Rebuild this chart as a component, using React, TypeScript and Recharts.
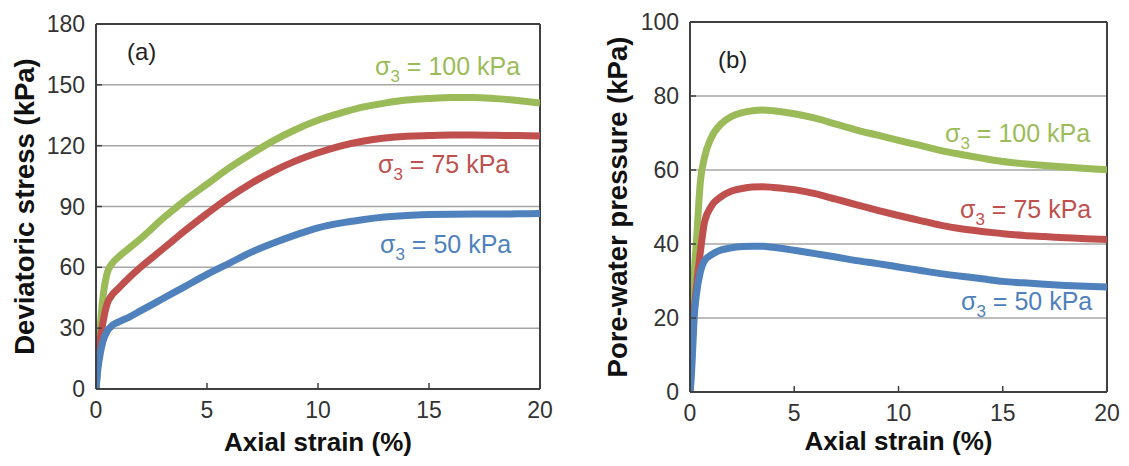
import React from "react";
import { LineChart, Line, XAxis, YAxis, CartesianGrid, ReferenceLine, Label } from "recharts";

const strain = [0, 0.05, 0.1, 0.2, 0.3, 0.5, 0.7, 1, 1.5, 2, 2.5, 3, 3.5, 4, 5, 6, 7, 8, 9, 10, 11, 12, 13, 14, 15, 16, 17, 18, 19, 20];

// (a) Deviatoric stress (kPa)
const q100 = [0, 10, 19, 32, 44, 57, 61.5, 65, 69.5, 74, 79, 84, 88.5, 93, 101, 109, 116, 122.5, 128, 132.5, 136, 139, 141, 142.5, 143.3, 143.8, 143.8, 143.2, 142.3, 141];
const q75 = [0, 8, 15, 25, 32, 42, 46, 49.5, 55, 60, 64.5, 69, 73.5, 78, 86.5, 94.5, 101.5, 107.5, 112.5, 116.5, 119.8, 122.2, 123.8, 124.7, 125, 125.2, 125.2, 125.1, 125, 124.8];
const q50 = [0, 6, 11, 18, 23, 28.5, 31, 33, 35.5, 38.5, 41.5, 44.5, 47.5, 50.5, 56.5, 62, 67.5, 72, 76, 79.5, 81.8, 83.5, 84.8, 85.6, 86, 86.2, 86.3, 86.3, 86.4, 86.5];

// (b) Pore-water pressure (kPa)
const u100 = [0, 10, 20, 32, 40, 57, 63.5, 68.5, 72.5, 74.5, 75.5, 76, 76.2, 76, 75.2, 74, 72.4, 70.8, 69.4, 68, 66.7, 65.3, 64.2, 63.2, 62.3, 61.7, 61.2, 60.8, 60.4, 60.1];
const u75 = [0, 7, 13, 22, 28, 38, 46, 50, 52.8, 54.3, 55, 55.4, 55.5, 55.3, 54.7, 53.6, 52.1, 50.6, 49.1, 47.7, 46.4, 45.1, 44.1, 43.4, 42.8, 42.3, 42, 41.7, 41.4, 41.2];
const u50 = [0, 3, 8, 20, 26, 32.5, 35.5, 37, 38.4, 39, 39.3, 39.4, 39.4, 39.1, 38.3, 37.4, 36.5, 35.5, 34.7, 33.8, 32.9, 32, 31.3, 30.6, 29.9, 29.5, 29.1, 28.8, 28.6, 28.4];

const xTicks = [0, 5, 10, 15, 20];
const yTicksA = [0, 30, 60, 90, 120, 150, 180];
const yTicksB = [0, 20, 40, 60, 80, 100];

const seriesLabels = ["σ", "3", " = 100 kPa", " = 75 kPa", " = 50 kPa"];

const GREEN = "#9BBB59";
const RED = "#C0504D";
const BLUE = "#4F81BD";
const AXIS = "#404040";
const GRID = "#a6a6a6";
const FONT = "'Liberation Sans', Arial, Helvetica, sans-serif";

const dataA = strain.map((s, i) => ({ strain: s, g: q100[i], r: q75[i], b: q50[i] }));
const dataB = strain.map((s, i) => ({ strain: s, g: u100[i], r: u75[i], b: u50[i] }));

type PanelProps = {
  data: any[];
  width: number;
  margin: { top: number; right: number; left: number; bottom: number };
  yAxisWidth: number;
  xAxisHeight: number;
  yMax: number;
  yTicks: number[];
  yTitle: string;
  yTitleDx: number;
  xTitleDy: number;
};

function Panel(p: PanelProps) {
  const tickStyle = { fontSize: 23, fill: "#333", fontFamily: FONT };
  return (
    <LineChart width={p.width} height={466} data={p.data} margin={p.margin}>
      <CartesianGrid horizontal vertical={false} stroke={GRID} strokeWidth={1.5} />
      <XAxis
        type="number"
        dataKey="strain"
        domain={[0, 20]}
        ticks={xTicks}
        height={p.xAxisHeight}
        stroke={AXIS}
        strokeWidth={2}
        tickSize={-6}
        tickMargin={19}
        tick={tickStyle}
        tickLine={{ stroke: AXIS, strokeWidth: 1.5 }}
        allowDataOverflow
      >
        <Label
          value="Axial strain (%)"
          position="center"
          dy={p.xTitleDy}
          style={{ fontSize: 26, fontWeight: "bold", fill: "#111", fontFamily: FONT }}
        />
      </XAxis>
      <YAxis
        type="number"
        domain={[0, p.yMax]}
        ticks={p.yTicks}
        width={p.yAxisWidth}
        stroke={AXIS}
        strokeWidth={2}
        tickSize={-6}
        tickMargin={17}
        tick={tickStyle}
        tickLine={{ stroke: AXIS, strokeWidth: 1.5 }}
        allowDataOverflow
      >
        <Label
          value={p.yTitle}
          position="center"
          angle={-90}
          dx={p.yTitleDx}
          style={{ fontSize: 27.5, fontWeight: "bold", fill: "#111", fontFamily: FONT, textAnchor: "middle" }}
        />
      </YAxis>
      <ReferenceLine y={p.yMax} stroke={AXIS} strokeWidth={2} />
      <ReferenceLine x={20} stroke={AXIS} strokeWidth={2} />
      <Line type="monotoneX" dataKey="g" stroke={GREEN} strokeWidth={7} dot={false} isAnimationActive={false} />
      <Line type="monotoneX" dataKey="r" stroke={RED} strokeWidth={7} dot={false} isAnimationActive={false} />
      <Line type="monotoneX" dataKey="b" stroke={BLUE} strokeWidth={7} dot={false} isAnimationActive={false} />
    </LineChart>
  );
}

function SeriesText({ x, y, color, rest }: { x: number; y: number; color: string; rest: string }) {
  return (
    <text x={x} y={y} fill={color} fontSize={25} fontFamily={FONT}>
      {seriesLabels[0]}
      <tspan fontSize={17} dy={7}>{seriesLabels[1]}</tspan>
      <tspan dy={-7}>{rest}</tspan>
    </text>
  );
}

export default function App() {
  return (
    <div style={{ position: "fixed", left: 0, top: 0, width: 1129, height: 466, background: "#fff", fontFamily: FONT }}>
      <div style={{ position: "absolute", left: 0, top: 0 }}>
        <Panel
          data={dataA}
          width={560}
          margin={{ top: 24, right: 20, left: 0, bottom: 0 }}
          yAxisWidth={96}
          xAxisHeight={77}
          yMax={180}
          yTicks={yTicksA}
          yTitle="Deviatoric stress (kPa)"
          yTitleDx={-24}
          xTitleDy={14}
        />
      </div>
      <div style={{ position: "absolute", left: 560, top: 0 }}>
        <Panel
          data={dataB}
          width={569}
          margin={{ top: 22, right: 22, left: 0, bottom: 0 }}
          yAxisWidth={130}
          xAxisHeight={74}
          yMax={100}
          yTicks={yTicksB}
          yTitle="Pore-water pressure (kPa)"
          yTitleDx={-8}
          xTitleDy={12}
        />
      </div>
      <svg width={1129} height={466} style={{ position: "absolute", left: 0, top: 0, pointerEvents: "none" }}>
        <text x={127} y={60} fontSize={24} fill="#222" fontFamily={FONT}>(a)</text>
        <text x={718} y={68} fontSize={24} fill="#222" fontFamily={FONT}>(b)</text>
        <SeriesText x={375} y={75} color={GREEN} rest={seriesLabels[2]} />
        <SeriesText x={378} y={173} color={RED} rest={seriesLabels[3]} />
        <SeriesText x={380} y={253} color={BLUE} rest={seriesLabels[4]} />
        <SeriesText x={945} y={142} color={GREEN} rest={seriesLabels[2]} />
        <SeriesText x={960} y={218} color={RED} rest={seriesLabels[3]} />
        <SeriesText x={961} y={310} color={BLUE} rest={seriesLabels[4]} />
      </svg>
    </div>
  );
}
